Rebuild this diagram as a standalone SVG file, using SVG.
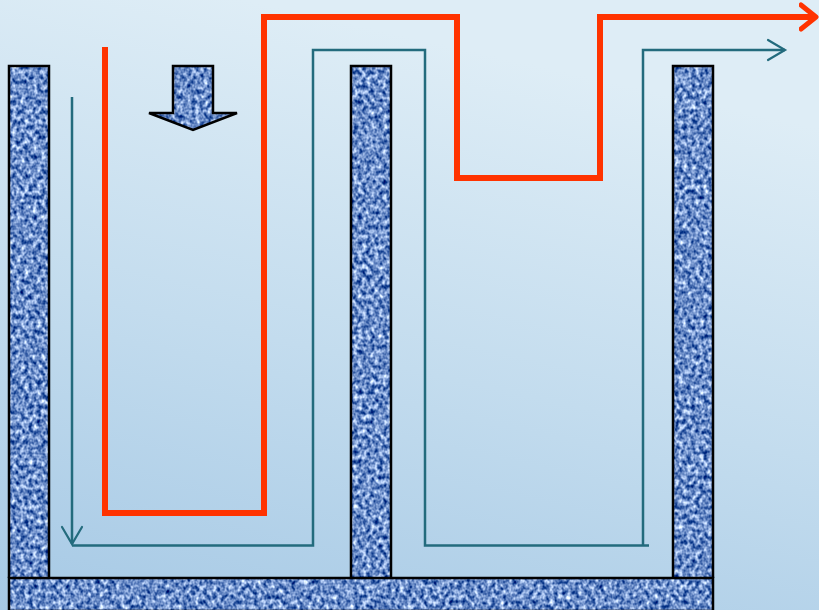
<svg xmlns="http://www.w3.org/2000/svg" width="819" height="610" viewBox="0 0 819 610">
<defs>
<linearGradient id="bg" x1="0.3" y1="0" x2="0" y2="1">
<stop offset="0" stop-color="#deedf6"/>
<stop offset="0.5" stop-color="#c3dcee"/>
<stop offset="1" stop-color="#a6c9e5"/>
</linearGradient>
<filter id="tex" x="0" y="0" width="819" height="610" filterUnits="userSpaceOnUse" color-interpolation-filters="sRGB">
<feTurbulence type="fractalNoise" baseFrequency="0.24 0.2" numOctaves="2" seed="7" result="n"/>
<feColorMatrix in="n" type="matrix" values="1.6 0 0 0 -0.38  1.4 0 0 0 -0.15  1.0 0 0 0 0.28  0 0 0 0 1" result="c"/>
<feComposite in="c" in2="SourceGraphic" operator="in"/>
</filter>
<marker id="redHead" viewBox="0 0 20 30" refX="17" refY="15" markerWidth="20" markerHeight="30" markerUnits="userSpaceOnUse" orient="auto">
<path d="M2,3 L17,15 L2,27" fill="none" stroke="#ff3300" stroke-width="5" stroke-linecap="round" stroke-linejoin="round"/>
</marker>
<marker id="tealHead" viewBox="0 0 22 24" refX="19" refY="12" markerWidth="22" markerHeight="24" markerUnits="userSpaceOnUse" orient="auto">
<path d="M2,2 L19,12 L2,22" fill="none" stroke="#236b7d" stroke-width="2.2" stroke-linecap="round"/>
</marker>
<style>
.wall{fill:none;stroke:#000;stroke-width:2.5}
.red{fill:none;stroke:#ff3300;stroke-width:6;stroke-linejoin:miter}
.teal{fill:none;stroke:#236b7d;stroke-width:2.5}
</style>
</defs>
<rect width="819" height="610" fill="url(#bg)"/>
<g id="walls-fill" filter="url(#tex)" fill="#000">
<rect x="9" y="66" width="40" height="512"/>
<rect x="351" y="66" width="40" height="512"/>
<rect x="673" y="66" width="40" height="512"/>
<rect x="9" y="578" width="704" height="32"/>
<polygon points="173,66 213,66 213,113 237,113 193,130 149,113 173,113"/>
</g>
<g id="walls-outline">
<path class="wall" d="M9,578 L9,66 L49,66 L49,578"/>
<path class="wall" d="M351,578 L351,66 L391,66 L391,578"/>
<path class="wall" d="M673,578 L673,66 L713,66 L713,578"/>
<rect class="wall" x="9" y="578" width="704" height="33"/>
<polygon class="wall" points="173,66 213,66 213,113 237,113 193,130 149,113 173,113"/>
</g>
<g id="connectors">
<path class="red" d="M105,47 L105,513 L264,513 L264,17 L457,17 L457,178 L600,178 L600,17 L816,17" marker-end="url(#redHead)"/>
<path class="teal" d="M72,97 L72,544" marker-end="url(#tealHead)"/>
<path class="teal" d="M72,545.5 L313,545.5 L313,50 L425,50 L425,545.5 L649,545.5"/>
<path class="teal" d="M643,545.5 L643,50 L785,50" marker-end="url(#tealHead)"/>
</g>
</svg>
